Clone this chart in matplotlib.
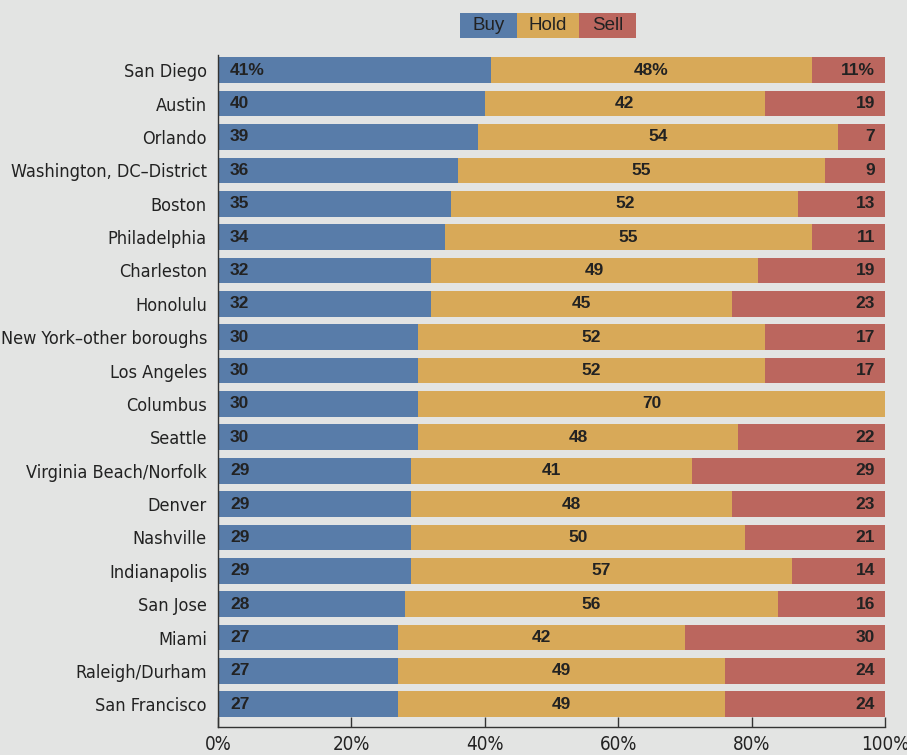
import numpy as np
import matplotlib
matplotlib.use('Agg')
import matplotlib.pyplot as plt
from matplotlib.patches import Rectangle

cities = ['San Diego', 'Austin', 'Orlando', 'Washington, DC\u2013District', 'Boston',
          'Philadelphia', 'Charleston', 'Honolulu', 'New York\u2013other boroughs',
          'Los Angeles', 'Columbus', 'Seattle', 'Virginia Beach/Norfolk', 'Denver',
          'Nashville', 'Indianapolis', 'San Jose', 'Miami', 'Raleigh/Durham',
          'San Francisco']
buy  = [41, 40, 39, 36, 35, 34, 32, 32, 30, 30, 30, 30, 29, 29, 29, 29, 28, 27, 27, 27]
hold = [48, 42, 54, 55, 52, 55, 49, 45, 52, 52, 70, 48, 41, 48, 50, 57, 56, 42, 49, 49]
sell = [11, 19, 7, 9, 13, 11, 19, 23, 17, 17, 0, 22, 29, 23, 21, 14, 16, 30, 24, 24]
# hold segment lengths as drawn (labels are rounded, bars are not)
hold_bar = [48, 42, 54, 55, 52, 55, 49, 45, 52, 52, 70, 48, 42, 48, 50, 57, 56, 43, 49, 49]
ticks = [0, 20, 40, 60, 80, 100]

bg      = '#e3e4e3'
c_buy   = '#587ca9'
c_hold  = '#d8a958'
c_sell  = '#bb665e'
c_text  = '#222222'
narrow  = ['DejaVu Sans']

fig = plt.figure(figsize=(9.07, 7.55), dpi=100, facecolor=bg)
ax = fig.add_axes([218/907, 1 - 727/755, (885 - 218)/907, (727 - 55)/755])
ax.set_facecolor(bg)

y = np.arange(len(cities))
buy_a = np.array(buy)
hold_a = np.array(hold_bar)
# sell segment runs to the 100% edge
sell_w = 100 - buy_a - hold_a

ax.barh(y, buy_a, height=0.77, color=c_buy)
ax.barh(y, hold_a, left=buy_a, height=0.77, color=c_hold)
ax.barh(y, sell_w, left=buy_a + hold_a, height=0.77, color=c_sell)

for i in range(len(cities)):
    suffix = '%' if i == 0 else ''
    ax.text(1.8, y[i], '{0}{1}'.format(buy[i], suffix), ha='left', va='center',
            fontsize=12.5, fontweight='bold', color=c_text, family='Liberation Sans')
    ax.text(buy[i] + hold_bar[i] / 2.0, y[i], '{0}{1}'.format(hold[i], suffix),
            ha='center', va='center', fontsize=12.5, fontweight='bold', color=c_text,
            family='Liberation Sans')
    if sell[i] > 0:
        ax.text(98.5, y[i], '{0}{1}'.format(sell[i], suffix), ha='right', va='center',
                fontsize=12.5, fontweight='bold', color=c_text, family='Liberation Sans')

ax.set_xlim(0, 100)
ax.set_ylim(len(cities) - 1 + 0.68, -0.457)
ax.set_yticks(y)
ax.set_yticklabels(cities, family=narrow, fontstretch='condensed', fontsize=13, color=c_text)
ax.tick_params(axis='y', length=0, pad=8)
ax.set_xticks(ticks)
ax.set_xticklabels(['{0}%'.format(t) for t in ticks], family=narrow, fontstretch='condensed',
                   fontsize=13.5, color=c_text)
ax.tick_params(axis='x', direction='in', length=7, width=1, color='#333333', pad=6)

for s in ['top', 'right']:
    ax.spines[s].set_visible(False)
for s in ['left', 'bottom']:
    ax.spines[s].set_color('#333333')
    ax.spines[s].set_linewidth(1)

# legend boxes along the top
legend_items = [('Buy', c_buy, 460, 517), ('Hold', c_hold, 517, 579), ('Sell', c_sell, 579, 636)]
for name, col, x0, x1 in legend_items:
    fig.patches.append(Rectangle((x0/907, 1 - 38/755), (x1 - x0)/907, 25/755,
                                 transform=fig.transFigure, facecolor=col, edgecolor='none'))
    fig.text((x0 + x1) / 2.0 / 907, 1 - 25.5/755, name, ha='center', va='center',
             fontsize=13.5, color=c_text, family='Liberation Sans')

fig.savefig('out.png', dpi=100, facecolor=bg)
